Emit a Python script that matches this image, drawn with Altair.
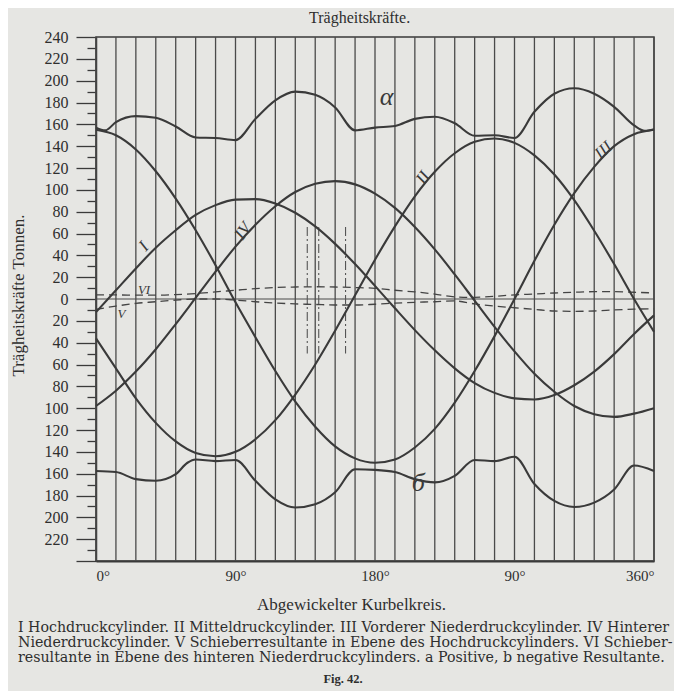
import altair as alt
import pandas as pd

# ---- data ----
deg = [0, 12.86, 25.71, 38.57, 51.43, 64.29, 77.14, 90, 102.86, 115.71, 128.57,
       141.43, 154.29, 167.14, 180, 192.86, 205.71, 218.57, 231.43, 244.29, 257.14,
       270, 282.86, 295.71, 308.57, 321.43, 334.29, 347.14, 360]

cyl_I = [-12, 8, 28, 47, 63, 77, 86, 91, 91.5, 87.5, 79, 66.5, 50.5, 32, 12, -8.5,
         -28.5, -47, -63.5, -77, -86, -91, -92, -88, -79, -66.5, -50.5, -32, -15]
cyl_II = [-36, -63.5, -91, -113.5, -130.5, -141, -144, -140, -128.5, -111, -87.5,
          -60, -29, 3.5, 36, 66.5, 94, 116.5, 133.5, 144, 147, 143, 131.5, 114, 90.5,
          62.5, 32, 0, -30]
cyl_III = [155, 150, 137, 117, 92, 63, 31, -3, -35, -66, -94, -117, -135, -146, -150,
           -147, -136, -119, -95, -66, -34, 0, 35, 68, 97, 121, 140, 151, 155]
cyl_IV = [-98, -84, -66.5, -46, -23, 1, 25, 48, 68, 85, 98, 105.5, 108, 105, 96.5,
          83.5, 66, 45.5, 22.5, -1.5, -25.5, -48, -68.5, -85, -98, -105.5, -108, -105, -100]
valve_V = [-9.5, -6.5, -4, -2.5, -1, 0, 0, -1, -2.5, -3.7, -4.5, -5, -5.5, -5.5, -4.8,
           -3.8, -3, -2.5, -1.8, -4.5, -6.5, -8, -9.5, -11, -11.3, -11, -10, -9.3, -9]
valve_VI = [3.7, 3.7, 3.5, 3.5, 4, 5, 6.5, 8, 9.5, 10.5, 11, 11.2, 11, 10.5, 9.8, 8,
            6.5, 4.5, 2, 1.5, 2.5, 3.8, 4.6, 5.5, 6.2, 6.7, 6.7, 6.2, 5.5]

alpha_deg = [0, 6, 12.86, 25.71, 38.57, 51.43, 64.29, 77.14, 90, 102.86, 115.71, 128.57,
             141.43, 154.29, 167.14, 180, 192.86, 205.71, 218.57, 231.43, 244.29, 257.14,
             270, 282.86, 295.71, 308.57, 321.43, 334.29, 347.14, 354, 360]
alpha_val = [157, 154.5, 162, 167.5, 166, 158, 148, 147.5, 145.5, 165, 182, 190, 187,
             175.5, 154.5, 157, 158.5, 165, 167, 161, 149.5, 150, 147.5, 171.5, 188, 193,
             188, 176, 159, 154, 155.5]

b_deg = [0, 12.86, 25.71, 38.57, 51.43, 59, 64.29, 77.14, 90, 102.86, 115.71, 128.57,
         141.43, 154.29, 167.14, 180, 192.86, 205.71, 218.57, 231.43, 244.29, 257.14,
         270, 282.86, 295.71, 308.57, 321.43, 334.29, 347.14, 360]
b_val = [-157.5, -158.5, -165, -166.5, -160.5, -150, -147, -148.5, -147.5, -166.5,
         -183.5, -191, -188, -177, -156, -156.5, -158.5, -165, -168, -162, -147.5,
         -148.5, -144.5, -169.5, -185, -190.5, -186.5, -174.5, -152.5, -157.5]

dashdot_deg = [136.3, 143.7, 161.0]
dashdot_top = [66, 66, 66]
dashdot_bottom = [-50, -50, -50]

x_tick_vals = [0, 90, 180, 270, 360]
x_tick_text = ["0°", "90°", "180°", "90°", "360°"]
y_tick_vals = list(range(-240, 241, 10))

label_text = ["I", "IV", "II", "III", "VI", "V", "α", "б"]
label_deg = [31, 95, 211, 327.4, 31, 16.5, 187.4, 208]
label_y = [48, 62, 111, 136, 8.5, -14, 185, -169]
label_angle = [312, 305, 305, 318, 0, 0, 0, 0]
label_size = [17, 17, 17, 17, 13, 13, 26, 26]

caption = [
    "I Hochdruckcylinder.  II Mitteldruckcylinder.  III Vorderer Niederdruckcylinder.  IV Hinterer",
    "Niederdruckcylinder.  V Schieberresultante in Ebene des Hochdruckcylinders.  VI Schieber-",
    "resultante in Ebene des hinteren Niederdruckcylinders.  a Positive,  b negative Resultante.",
]

# ---- styling ----
FONT = "Liberation Serif"
CAPFONT = "DejaVu Serif"
INK = "#3a3a3a"
PAPER = "#e6e6e3"

x_label_expr = " : ".join(
    [f"datum.value == {v} ? '{t}'" for v, t in zip(x_tick_vals, x_tick_text)]
) + " : ''"

xs = alt.Scale(domain=[0, 360], nice=False, zero=False)
ys = alt.Scale(domain=[-240, 240], nice=False, zero=False)

x_axis = alt.Axis(values=x_tick_vals, labelExpr=x_label_expr, ticks=False, grid=False,
                  domainColor=INK, domainWidth=2.2, labelFont=FONT, labelFontSize=15,
                  labelColor="#2e2e2e", labelPadding=7,
                  title="Abgewickelter Kurbelkreis.", titleFont=FONT, titleFontSize=17,
                  titleFontWeight="normal", titleColor="#2e2e2e",
                  titleX=255, titleY=43, titleBaseline="middle")
y_axis = alt.Axis(values=y_tick_vals,
                  labelExpr="datum.value % 20 === 0 && datum.value > -240 ? format(abs(datum.value), 'd') : ''",
                  tickSize={"condition": {"test": "datum.value % 20 === 0", "value": 20}, "value": 9},
                  tickColor=INK, tickWidth=1.3, grid=False, domainColor=INK, domainWidth=1.5,
                  labelFont=FONT, labelFontSize=16, labelColor="#2e2e2e", labelPadding=8,
                  title="Trägheitskräfte Tonnen.", titleFont=FONT, titleFontSize=17,
                  titleFontWeight="normal", titleColor="#2e2e2e",
                  titleAngle=270, titleX=-78, titleY=258, titleAlign="center",
                  titleBaseline="middle")

X = lambda f: alt.X(f, type="quantitative", scale=xs, axis=x_axis)
Y = lambda f: alt.Y(f, type="quantitative", scale=ys, axis=y_axis)

solid = pd.concat([
    pd.DataFrame({"x": deg, "y": v, "s": n})
    for n, v in [("I", cyl_I), ("II", cyl_II), ("III", cyl_III), ("IV", cyl_IV)]
] + [
    pd.DataFrame({"x": alpha_deg, "y": alpha_val, "s": "a"}),
    pd.DataFrame({"x": b_deg, "y": b_val, "s": "b"}),
])
dashed = pd.concat([
    pd.DataFrame({"x": deg, "y": valve_V, "s": "V"}),
    pd.DataFrame({"x": deg, "y": valve_VI, "s": "VI"}),
])

grid = alt.Chart(pd.DataFrame({"x": deg})).mark_rule(color="#4a4a4a", strokeWidth=1.3).encode(x=X("x"))
zero = alt.Chart(pd.DataFrame({"y": [0]})).mark_rule(color="#4a4a4a", strokeWidth=1.1).encode(y=Y("y"))
dd = alt.Chart(pd.DataFrame({"x": dashdot_deg, "t": dashdot_top, "b": dashdot_bottom})).mark_rule(
    color="#555", strokeWidth=1.1, strokeDash=[9, 3, 2, 3]).encode(x=X("x"), y=Y("t"), y2="b")
lines = alt.Chart(solid).mark_line(color=INK, strokeWidth=2.1, interpolate="monotone").encode(
    x=X("x"), y=Y("y"), detail="s:N")
dlines = alt.Chart(dashed).mark_line(color="#444", strokeWidth=1.3, strokeDash=[8, 5],
                                     interpolate="monotone").encode(x=X("x"), y=Y("y"), detail="s:N")

labels = []
for t, xv, yv, a, s in zip(label_text, label_deg, label_y, label_angle, label_size):
    labels.append(
        alt.Chart(pd.DataFrame({"x": [xv], "y": [yv], "t": [t]})).mark_text(
            font=FONT, fontSize=s, fontStyle="italic", color=INK, angle=a,
            align="center", baseline="middle").encode(x=X("x"), y=Y("y"), text="t:N")
    )

cap_layers = []
for i, line in enumerate(caption):
    cap_layers.append(
        alt.Chart(pd.DataFrame({"t": [line]})).mark_text(
            font=CAPFONT, fontSize=14.2, color="#2e2e2e", align="left", baseline="middle").encode(
            x=alt.value(-78), y=alt.value(591 + 15 * i), text="t:N")
    )
fig = alt.Chart(pd.DataFrame({"t": ["Fig. 42."]})).mark_text(
    font=FONT, fontSize=12.5, fontWeight="bold", color="#2e2e2e", align="center",
    baseline="middle").encode(x=alt.value(247), y=alt.value(642), text="t:N")

chart = alt.layer(grid, zero, dd, dlines, lines, *labels, *cap_layers, fig).properties(
    width=558, height=524,
    padding={"left": 88, "top": 29, "right": 20, "bottom": 130},
    autosize=alt.AutoSizeParams(type="none"),
    background=PAPER,
    title=alt.TitleParams("Trägheitskräfte.", font=FONT, fontSize=16, fontWeight="normal",
                          color="#2e2e2e", anchor="start", dx=300, offset=3),
).configure_view(stroke=INK, strokeWidth=1.5)

chart.save("out.html", embed_options={"renderer": "svg", "actions": False})
